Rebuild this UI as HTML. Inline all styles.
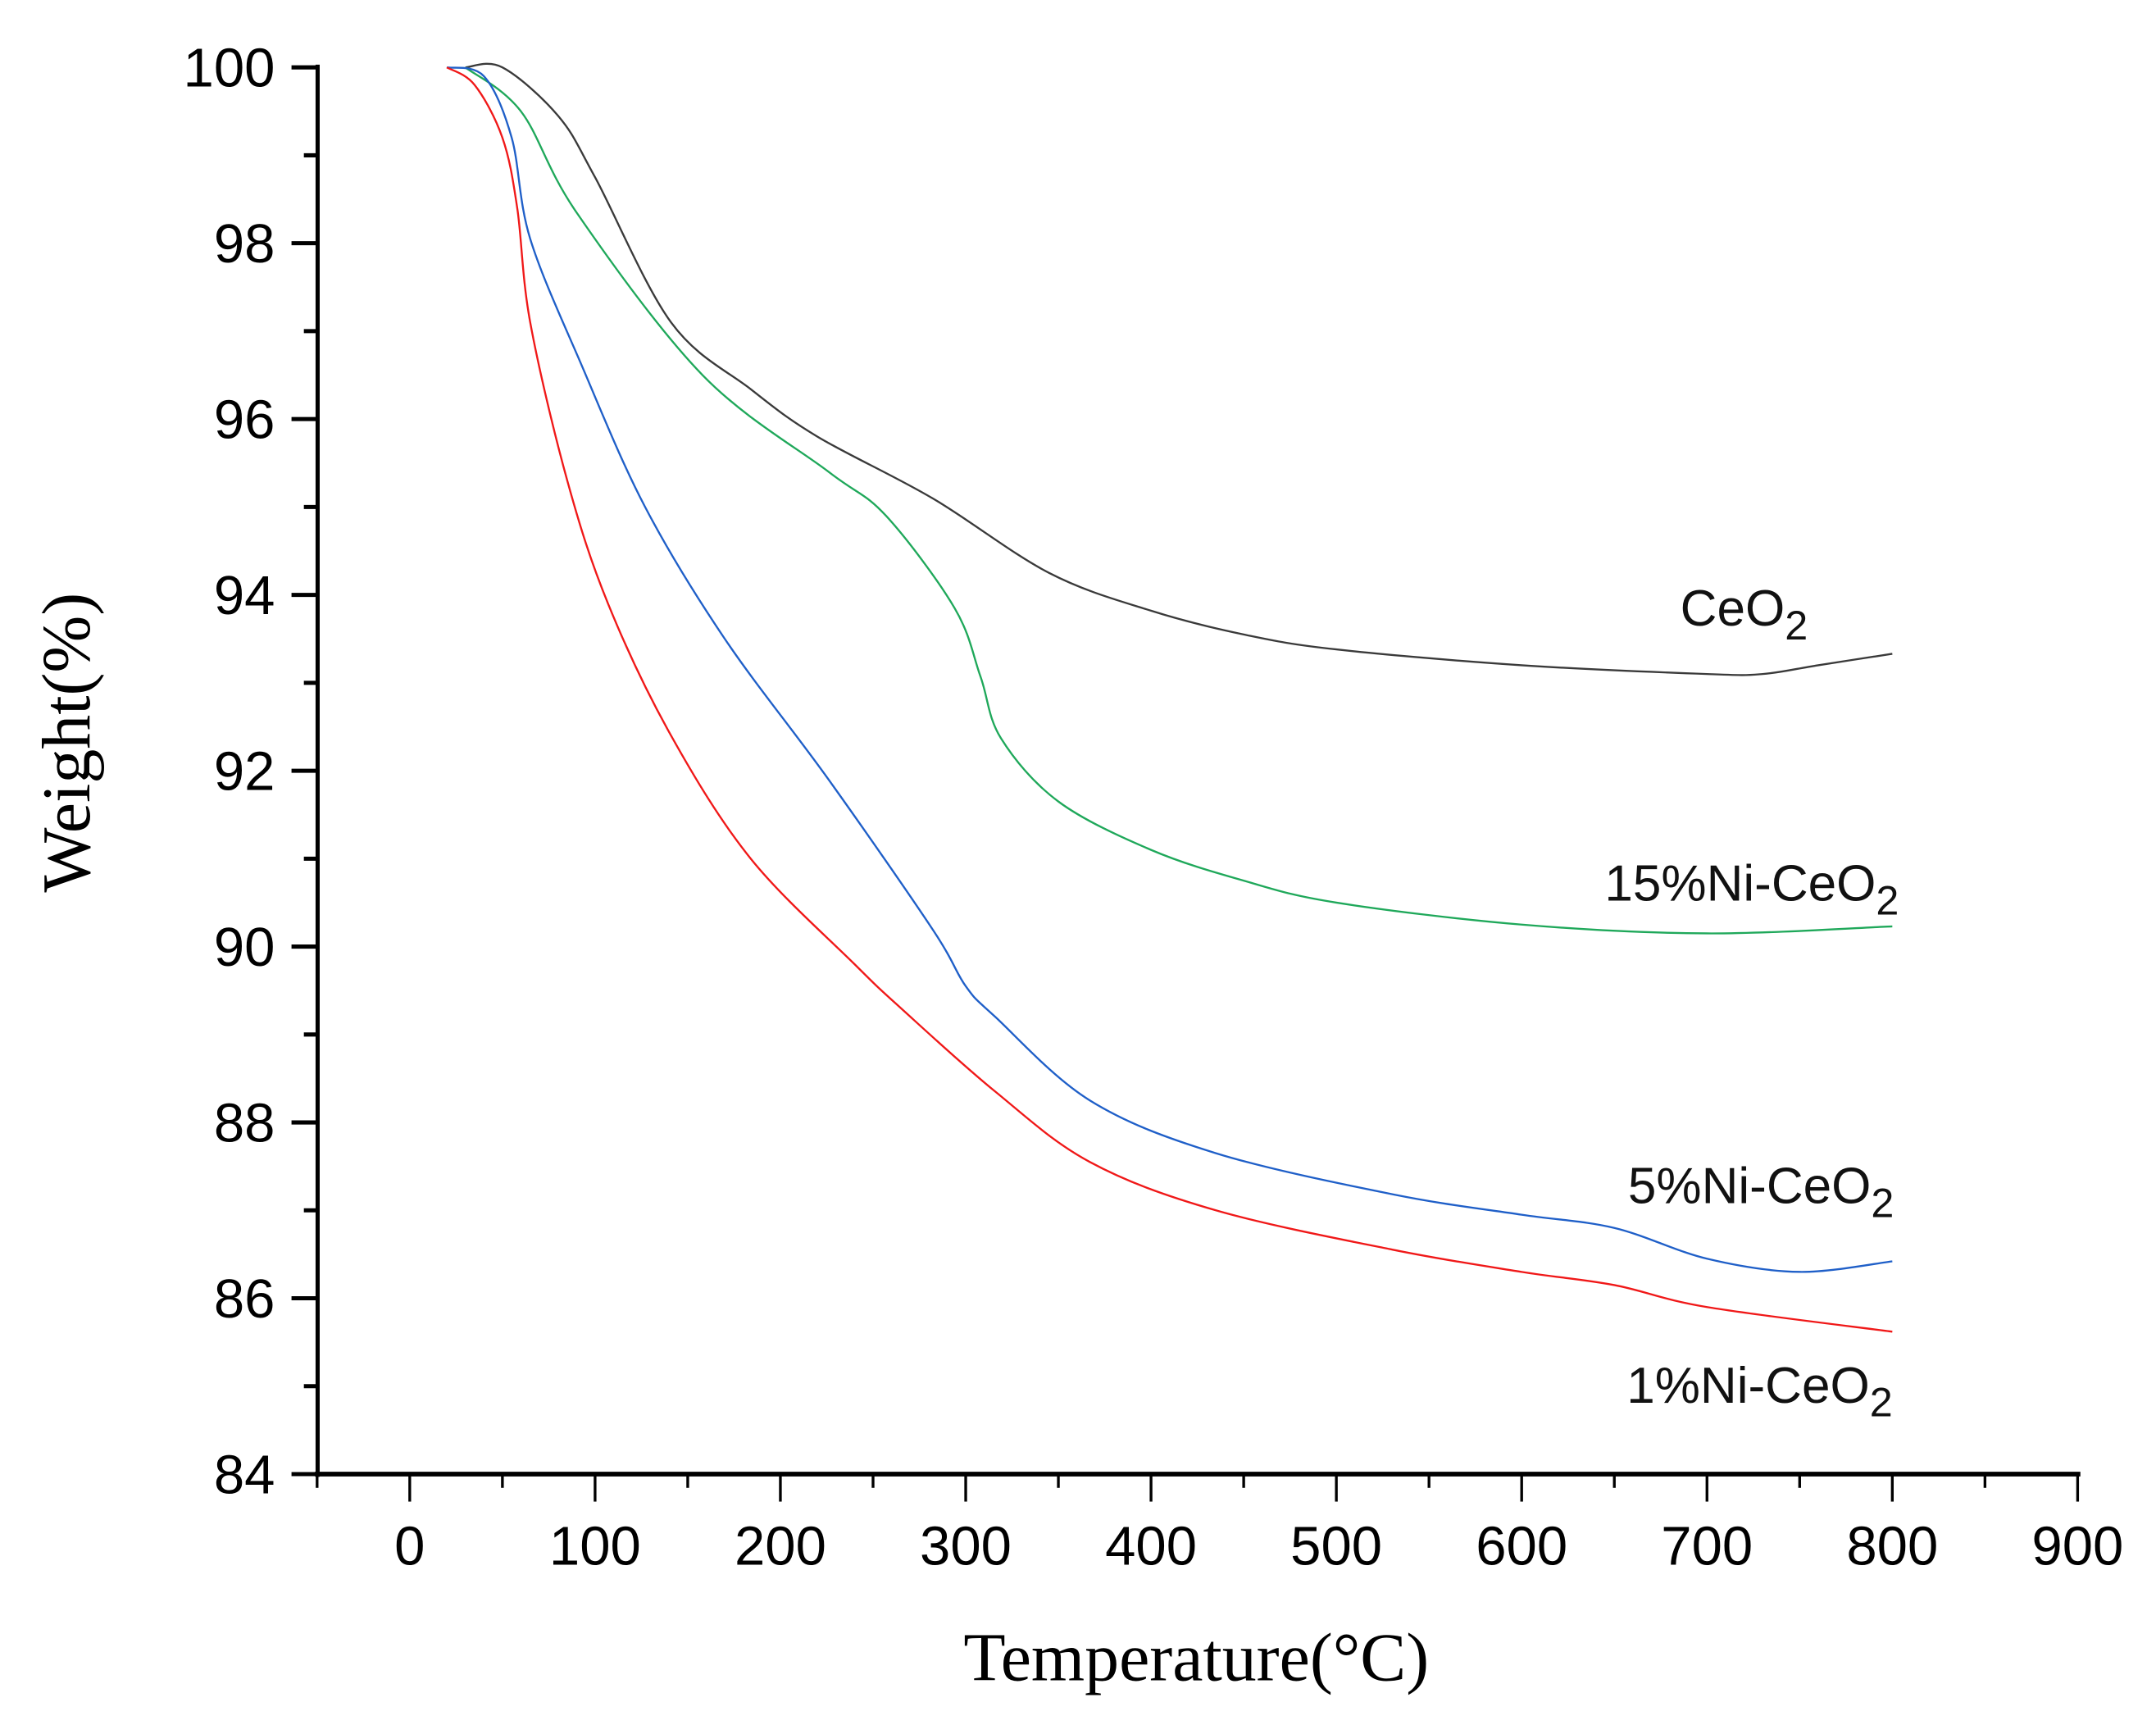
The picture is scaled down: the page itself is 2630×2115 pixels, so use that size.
<!DOCTYPE html>
<html><head><meta charset="utf-8"><style>
html,body{margin:0;padding:0;background:#fff;}
svg{display:block;}
</style></head><body>
<svg id="chart" width="2630" height="2115" viewBox="0 0 1568 1261" preserveAspectRatio="none" xmlns="http://www.w3.org/2000/svg">
<g id="axes"></g>
<g id="series"></g>
<g id="labels">
<text x="1222" y="455" font-family="Liberation Sans, sans-serif" font-size="37" fill="#111">CeO<tspan font-size="30" dy="10">2</tspan></text>
<text x="1167" y="655" font-family="Liberation Sans, sans-serif" font-size="37" fill="#111">15%Ni-CeO<tspan font-size="30" dy="10">2</tspan></text>
<text x="1184" y="875" font-family="Liberation Sans, sans-serif" font-size="37" fill="#111">5%Ni-CeO<tspan font-size="30" dy="10">2</tspan></text>
<text x="1183" y="1020" font-family="Liberation Sans, sans-serif" font-size="37" fill="#111">1%Ni-CeO<tspan font-size="30" dy="10">2</tspan></text>
<text x="870" y="1222" text-anchor="middle" font-family="Liberation Serif, serif" font-size="50" fill="#000">Temperature(°C)</text>
<text transform="translate(65,540) rotate(-90)" text-anchor="middle" font-family="Liberation Serif, serif" font-size="50" fill="#000">Weight(%)</text>
</g>
</svg>
<script>
const xTicks = [0,100,200,300,400,500,600,700,800,900];
const yTicks = [84,86,88,90,92,94,96,98,100];
const tCeO2 = [30,50,80,100,141,184,220,282,345,400,450,500,600,700,730,760,800];
const wCeO2 = [100,100,99.45,98.75,97.1,96.34,95.8,95.1,94.25,93.82,93.55,93.38,93.2,93.1,93.1,93.2,93.33];
const t15 = [30,60,90,158,226,257,294,308,319,350,400,450,500,600,700,800];
const w15 = [100,99.5,98.35,96.5,95.4,94.9,93.85,93.07,92.37,91.65,91.1,90.75,90.5,90.25,90.15,90.23];
const t5 = [20,40,55,65,93,127,170,226,282,300,316,367,435,531,600,650,700,750,800];
const w5 = [100,99.9,99.2,98.05,96.6,95.0,93.5,91.9,90.2,89.55,89.2,88.25,87.65,87.18,86.95,86.8,86.45,86.3,86.42];
const t1 = [20,35,50,58,65,85,107,141,184,240,265,316,367,435,531,600,650,700,800];
const w1 = [100,99.8,99.2,98.4,97.1,95.3,93.9,92.4,91.0,89.8,89.3,88.35,87.55,87.0,86.55,86.3,86.15,85.9,85.62];

const NS='http://www.w3.org/2000/svg';
const X0=298, XS=(1511-298)/900, Y0=1072, YS=(1072-49)/16;
function xs(v){return X0+v*XS;}
function ys(v){return Y0-(v-84)*YS;}
function mk(tag,attrs,parent){const e=document.createElementNS(NS,tag);for(const k in attrs)e.setAttribute(k,attrs[k]);parent.appendChild(e);return e;}
const axes=document.getElementById('axes');
let l=mk('line',{x1:231,y1:47,x2:231,y2:1074,stroke:'#000','stroke-width':3},axes);


l=mk('line',{x1:229,y1:1072,x2:1513,y2:1072,stroke:'#000','stroke-width':3.5},axes);


for(let v=84;v<=100;v+=1){
  const major=v%2===0;
  const t=mk('line',{x1:231-(major?19:10),y1:ys(v),x2:231,y2:ys(v),stroke:'#000','stroke-width':3},axes);
  
  
}
yTicks.forEach(v=>{
  const t=mk('text',{x:200,y:ys(v)+14,'text-anchor':'end','font-family':'Liberation Sans, sans-serif','font-size':40,fill:'#000'},axes);
  t.textContent=String(v);
  
  
});
for(let v=-50;v<=900;v+=50){
  const major=v%100===0;
  const t=mk('line',{x1:xs(v),y1:1072,x2:xs(v),y2:1072+(major?20:10),stroke:'#000','stroke-width':2},axes);
  
  
}
xTicks.forEach(v=>{
  const t=mk('text',{x:xs(v),y:1138,'text-anchor':'middle','font-family':'Liberation Sans, sans-serif','font-size':40,fill:'#000'},axes);
  t.textContent=String(v);
  
  
});
function pathFor(ts,ws){
  const p=ts.map((t,i)=>[xs(t),ys(ws[i])]);
  let d='M'+p[0][0]+','+p[0][1];
  for(let i=0;i<p.length-1;i++){
    const p0=p[i-1]||p[i],p1=p[i],p2=p[i+1],p3=p[i+2]||p2;
    const c1=[p1[0]+(p2[0]-p0[0])/6,p1[1]+(p2[1]-p0[1])/6];
    const c2=[p2[0]-(p3[0]-p1[0])/6,p2[1]-(p3[1]-p1[1])/6];
    d+=' C'+c1+' '+c2+' '+p2;
  }
  return d;
}
const series=document.getElementById('series');
[[tCeO2,wCeO2,'#3a3a3a','line-ceo2'],[t15,w15,'#1fa85a','line-15ni-ceo2'],[t5,w5,'#1f5fc8','line-5ni-ceo2'],[t1,w1,'#f01818','line-1ni-ceo2']].forEach(s=>{
  const p=mk('path',{d:pathFor(s[0],s[1]),fill:'none',stroke:s[2],'stroke-width':1.4},series);
  
  
});
</script>
</body></html>
